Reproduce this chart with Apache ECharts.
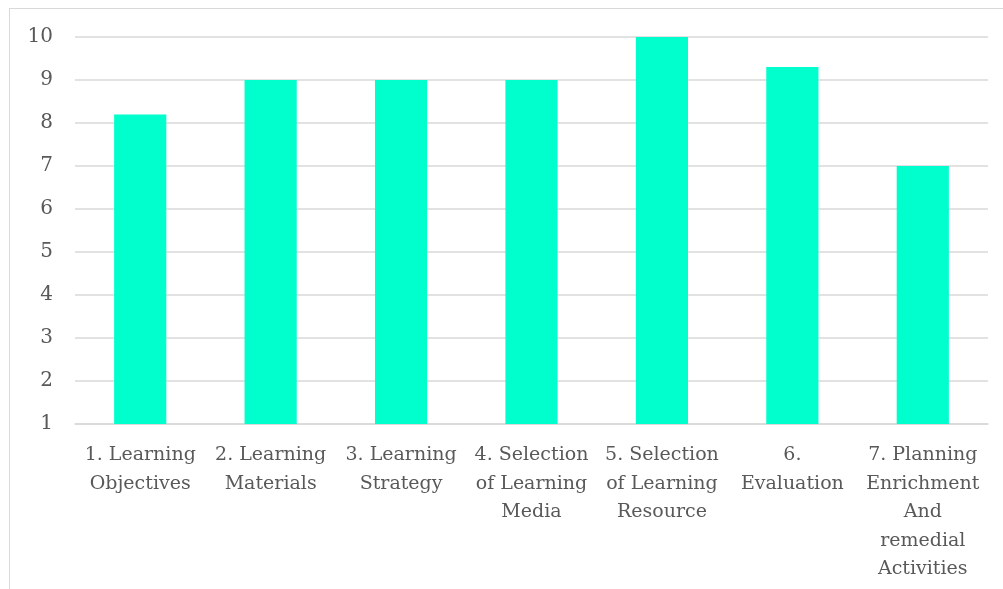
<!DOCTYPE html>
<html>
<head>
<meta charset="utf-8">
<script src="https://cdn.jsdelivr.net/npm/echarts@6/dist/echarts.min.js"></script>
<style>
  html, body { margin: 0; padding: 0; background: #fff; }
  #frame {
    position: absolute; left: 9px; top: 8px; width: 1010px; height: 600px;
    border: 1px solid #d9d9d9; box-sizing: border-box;
  }
  #main { position: absolute; left: 0; top: 0; width: 1003px; height: 589px; }
</style>
</head>
<body>
<div id="frame"></div>
<div id="main"></div>
<script>
var categories = [
  "1. Learning\nObjectives",
  "2. Learning\nMaterials",
  "3. Learning\nStrategy",
  "4. Selection\nof Learning\nMedia",
  "5. Selection\nof Learning\nResource",
  "6.\nEvaluation",
  "7. Planning\nEnrichment\nAnd\nremedial\nActivities"
];
var scores = [8.2, 9, 9, 9, 10, 9.3, 7];
var yTicks = [1, 10, 1]; // min, max, interval

function initScoreChart(chartDom) {
  var myChart = echarts.init(chartDom, null, { renderer: "canvas" });
  var font = "'DejaVu Serif', 'Liberation Serif', serif";

  var option = {
    animation: false,
    backgroundColor: "transparent",
    grid: { left: 75, right: 15, top: 37, bottom: 165 },
    xAxis: {
      type: "category",
      data: categories,
      axisLine: { lineStyle: { color: "#d9d9d9", width: 1.5 } },
      axisTick: { show: false },
      axisLabel: {
        interval: 0,
        color: "#595959",
        fontFamily: font,
        fontSize: 19,
        lineHeight: 28.5,
        margin: 17,
        align: "center"
      }
    },
    yAxis: {
      type: "value",
      min: yTicks[0],
      max: yTicks[1],
      interval: yTicks[2],
      axisLine: { show: false },
      axisTick: { show: false },
      splitLine: { lineStyle: { color: "#d9d9d9", width: 1.5 } },
      axisLabel: {
        color: "#595959",
        fontFamily: font,
        fontSize: 20,
        margin: 22
      }
    },
    series: [
      {
        type: "bar",
        data: scores,
        barWidth: "40%",
        itemStyle: { color: "#00ffcc" }
      }
    ]
  };

  myChart.setOption(option);
}

initScoreChart(document.getElementById("main"));
</script>
</body>
</html>
